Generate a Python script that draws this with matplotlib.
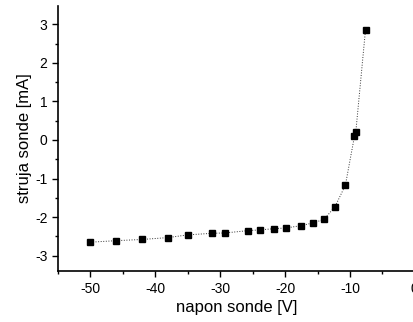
import matplotlib
matplotlib.use("Agg")
import matplotlib.pyplot as plt
from matplotlib.ticker import MultipleLocator

# napon sonde [V] i struja sonde [mA]
napon = [-50.0, -46.0, -42.1, -38.0, -35.0, -31.3, -29.2, -25.7, -23.8, -21.7,
         -19.8, -17.5, -15.7, -14.0, -12.3, -10.7, -9.3, -9.1, -7.6]
struja = [-2.65, -2.61, -2.58, -2.53, -2.46, -2.42, -2.41, -2.35, -2.33, -2.30,
          -2.28, -2.22, -2.15, -2.06, -1.73, -1.17, 0.10, 0.20, 2.86]

plt.rcParams["font.family"] = "Liberation Sans"
plt.rcParams["axes.unicode_minus"] = False

fig = plt.figure(figsize=(4.14, 3.22), dpi=100)
ax = fig.add_axes([0.140, 0.158, 0.862, 0.823])

ax.plot(napon, struja, linestyle=":", color="#333333", linewidth=0.7,
        marker="s", markersize=4, markerfacecolor="black", markeredgecolor="black")

ax.set_xlim(-55, 0)
ax.set_ylim(-3.4, 3.47)
ax.xaxis.set_major_locator(MultipleLocator(10))
ax.xaxis.set_minor_locator(MultipleLocator(5))
ax.yaxis.set_major_locator(MultipleLocator(1))
ax.yaxis.set_minor_locator(MultipleLocator(0.5))
ax.tick_params(direction="out", labelsize=10, length=4, width=1)
ax.tick_params(which="minor", direction="out", length=2, width=1)

for s in ["top", "right"]:
    ax.spines[s].set_visible(False)
for s in ["left", "bottom"]:
    ax.spines[s].set_linewidth(1.2)

ax.set_xlabel("napon sonde [V]", fontsize=12, labelpad=3)
ax.set_ylabel("struja sonde [mA]", fontsize=12, labelpad=2)

fig.savefig("out.png", dpi=100)
